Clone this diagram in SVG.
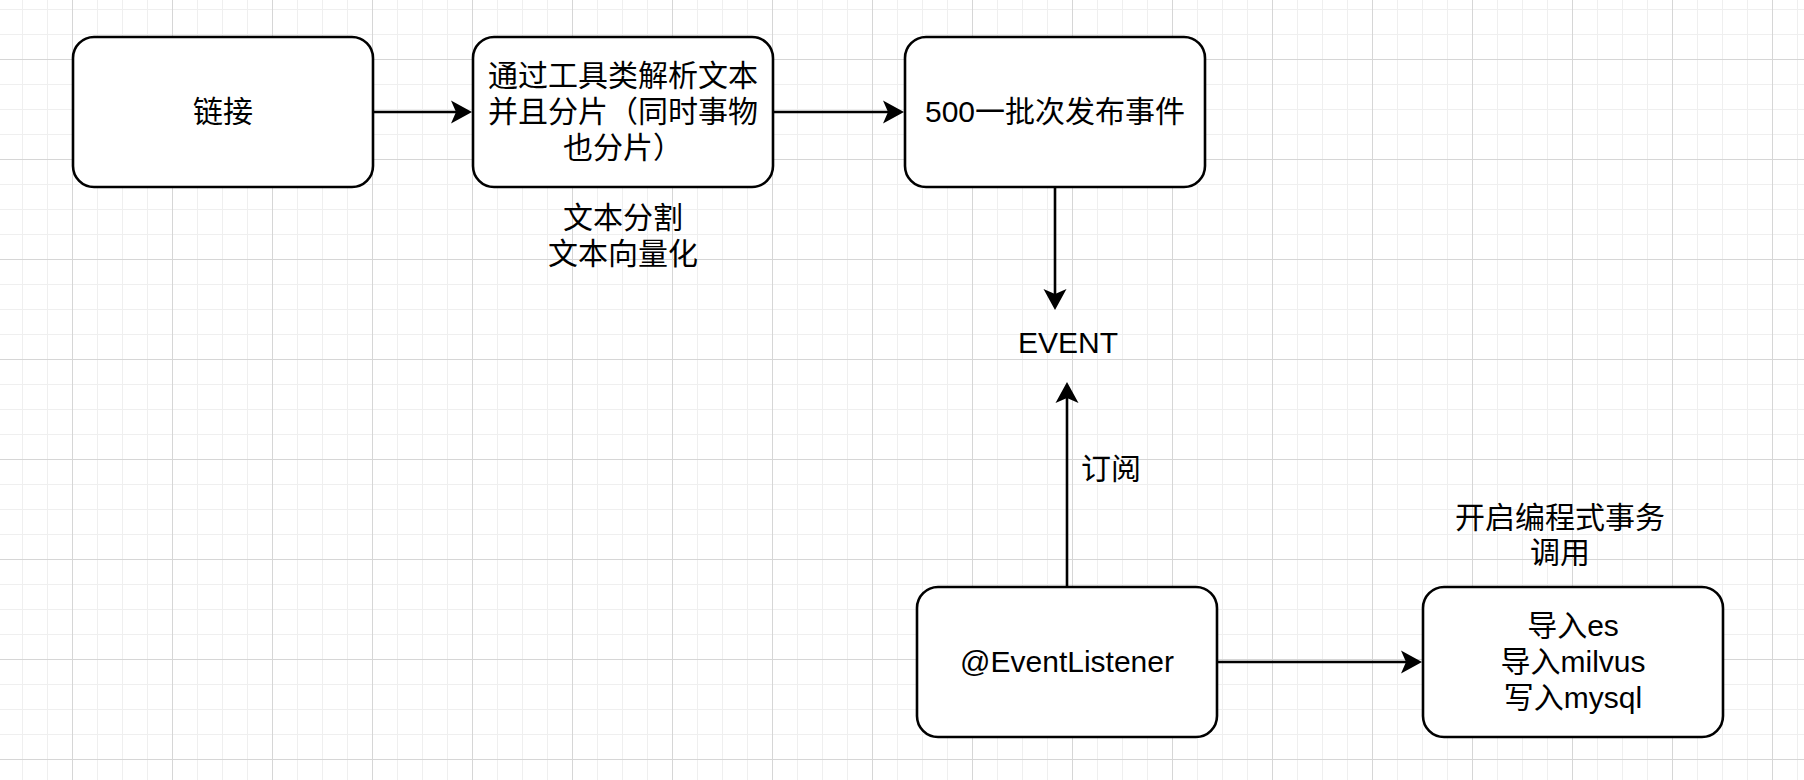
<svg xmlns="http://www.w3.org/2000/svg" width="1804" height="780" viewBox="0 0 1804 780">
  <style>
    .box { fill: #ffffff; stroke: #000000; stroke-width: 2.6; }
    .edge { fill: none; stroke: #000000; stroke-width: 2.6; }
    .t { font-family: "Liberation Sans", "Noto Sans CJK SC", sans-serif; font-size: 30px; fill: #000000; text-anchor: middle; }
    .ts { text-anchor: start; }
  </style>
  <defs>
    <pattern id="grid" x="72" y="59" width="100" height="100" patternUnits="userSpaceOnUse">
      <rect x="25" y="0" width="1" height="100" fill="#efefef"/>
      <rect x="50" y="0" width="1" height="100" fill="#efefef"/>
      <rect x="75" y="0" width="1" height="100" fill="#efefef"/>
      <rect x="0" y="25" width="100" height="1" fill="#efefef"/>
      <rect x="0" y="50" width="100" height="1" fill="#efefef"/>
      <rect x="0" y="75" width="100" height="1" fill="#efefef"/>
      <rect x="0" y="0" width="1" height="100" fill="#d6d6d6"/>
      <rect x="0" y="0" width="100" height="1" fill="#d6d6d6"/>
    </pattern>
    <marker id="arrow" markerUnits="userSpaceOnUse" markerWidth="22" markerHeight="23" refX="5" refY="11.5" orient="auto" overflow="visible">
      <path d="M0,0 L21,11.5 L0,23 L5,11.5 Z" fill="#000000"/>
    </marker>
  </defs>

  <rect x="0" y="0" width="1804" height="780" fill="#ffffff"/>
  <rect x="0" y="0" width="1804" height="780" fill="url(#grid)"/>

  <g id="connectors">
    <line class="edge" x1="374" y1="112" x2="456" y2="112" marker-end="url(#arrow)"/>
    <line class="edge" x1="773" y1="112" x2="888" y2="112" marker-end="url(#arrow)"/>
    <line class="edge" x1="1055" y1="187" x2="1055" y2="294" marker-end="url(#arrow)"/>
    <line class="edge" x1="1067" y1="587" x2="1067" y2="398" marker-end="url(#arrow)"/>
    <line class="edge" x1="1217" y1="662" x2="1406" y2="662" marker-end="url(#arrow)"/>
  </g>

  <g id="node-link">
    <rect class="box" x="73" y="37" width="300" height="150" rx="21" ry="21"/>
    <text class="t" x="223" y="121.5">链接</text>
  </g>

  <g id="node-parse">
    <rect class="box" x="473" y="37" width="300" height="150" rx="21" ry="21"/>
    <text class="t" x="623" y="85.5">通过工具类解析文本</text>
    <text class="t" x="623" y="121.5">并且分片（同时事物</text>
    <text class="t" x="623" y="157.5">也分片）</text>
  </g>

  <g id="label-split">
    <text class="t" x="623" y="227.5">文本分割</text>
    <text class="t" x="623" y="264">文本向量化</text>
  </g>

  <g id="node-publish">
    <rect class="box" x="905" y="37" width="300" height="150" rx="21" ry="21"/>
    <text class="t" x="1055" y="122">500一批次发布事件</text>
  </g>

  <g id="node-event">
    <text class="t" x="1068" y="353">EVENT</text>
  </g>

  <g id="label-subscribe">
    <text class="t ts" x="1081" y="478.5">订阅</text>
  </g>

  <g id="node-listener">
    <rect class="box" x="917" y="587" width="300" height="150" rx="21" ry="21"/>
    <text class="t" x="1067" y="672">@EventListener</text>
  </g>

  <g id="label-tx">
    <text class="t" x="1560" y="527.5">开启编程式事务</text>
    <text class="t" x="1560" y="562.5">调用</text>
  </g>

  <g id="node-import">
    <rect class="box" x="1423" y="587" width="300" height="150" rx="21" ry="21"/>
    <text class="t" x="1573" y="635.5">导入es</text>
    <text class="t" x="1573" y="671.5">导入milvus</text>
    <text class="t" x="1573" y="707.5">写入mysql</text>
  </g>
</svg>
